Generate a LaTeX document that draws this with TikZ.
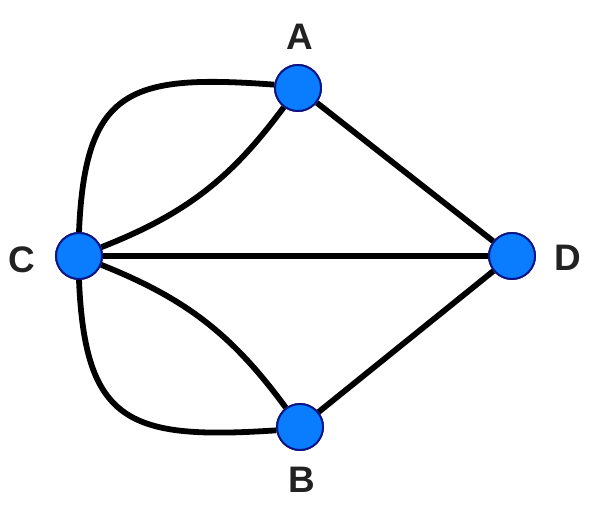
\documentclass[tikz,border=0pt]{standalone}
\usepackage{fontspec}
\setmainfont{Liberation Sans}
\definecolor{nodeblue}{RGB}{10,125,255}
\definecolor{nodeedge}{RGB}{10,20,130}
\definecolor{labelgray}{RGB}{34,34,34}
\tikzset{
  vertex/.style={circle,draw=nodeedge,fill=nodeblue,line width=1.1pt,inner sep=0pt,minimum size=0.92cm},
  vlabel/.style={font=\fontsize{21}{21}\selectfont\bfseries,text=labelgray},
  bridge/.style={line width=3.3pt}
}
\begin{document}
\begin{tikzpicture}[x=0.02cm,y=0.02cm]
\useasboundingbox (0,0) rectangle (605,520);
% the four land masses
\node[vertex] (A) at (298,432) {};
\node[vertex] (C) at (79,264) {};
\node[vertex] (D) at (512,264) {};
\node[vertex] (B) at (300,93) {};
\node[vlabel] (la) at (300,483) {A};
\node[vlabel] (lc) at (22,260) {C};
\node[vlabel] (ld) at (568,262) {D};
\node[vlabel] (lb) at (302,40) {B};
% the seven bridges
\begin{scope}[on background layer/.try]
\draw[bridge] (C.north) .. controls (85,432) and (130,446) .. (A.172);
\draw[bridge] (C) to[bend right=16] (A);
\draw[bridge] (C) -- (D);
\draw[bridge] (C) to[bend left=16] (B);
\draw[bridge] (C.south) .. controls (85,96) and (130,80) .. (B.188);
\draw[bridge] (A) -- (D);
\draw[bridge] (B) -- (D);
\end{scope}
\foreach \v in {A,B,C,D} % redraw the dots over the lines
\node[vertex] at (\v) {};
\end{tikzpicture}
\end{document}
